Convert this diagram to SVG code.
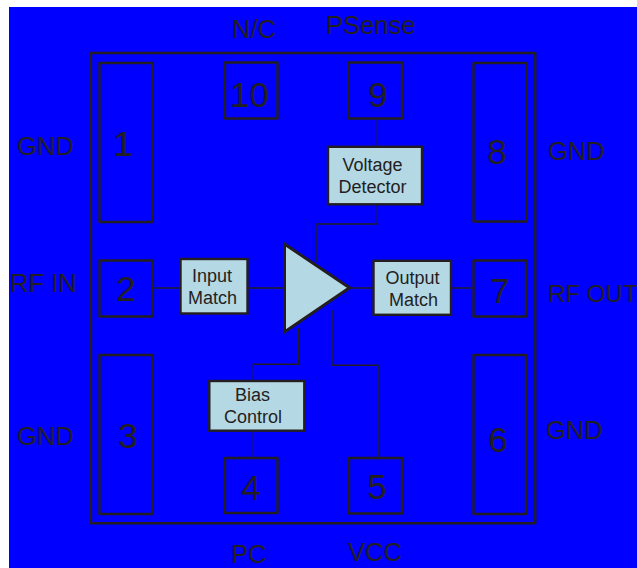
<svg xmlns="http://www.w3.org/2000/svg" width="637" height="568" viewBox="0 0 637 568">
<style>
text{font-family:"Liberation Sans",Arial,sans-serif;fill:#231f20}
.l{font-size:25.5px}
.n{font-size:35px;text-anchor:middle}
.t{font-size:18px;text-anchor:middle}
.pin{fill:none;stroke:#231f20;stroke-width:2.4;stroke-linejoin:round}
.blk{fill:#b5d8e5;stroke:#231f20;stroke-width:2.4}
.w{fill:none;stroke:#231f20;stroke-width:1.4}
</style>
<rect width="637" height="568" fill="#fff"/>
<rect x="9" y="7" width="628" height="561" fill="#0000ff"/>
<rect id="package" x="91" y="53" width="444.3" height="470.3" fill="none" stroke="#231f20" stroke-width="2.4" stroke-linejoin="round"/>
<g id="connectors">
<path class="w" d="M377.3 118V146"/>
<path class="w" d="M377.3 205V224H317V262"/>
<path class="w" d="M153 288H180"/>
<path class="w" d="M248 288H284"/>
<path class="w" d="M350 288H373"/>
<path class="w" d="M452 288H473"/>
<path class="w" d="M298.4 328V364.3H253.3V381"/>
<path class="w" d="M253.3 431V458"/>
<path class="w" d="M332 310V365.3H378V458"/>
</g>
<g id="pin1"><rect class="pin" x="99.5" y="63" width="53" height="159"/><text class="n" x="123" y="156">1</text></g>
<g id="pin2"><rect class="pin" x="99.5" y="260.5" width="53" height="56"/><text class="n" x="126" y="301">2</text></g>
<g id="pin3"><rect class="pin" x="99.5" y="355" width="53" height="159"/><text class="n" x="128" y="448">3</text></g>
<g id="pin4"><rect class="pin" x="225" y="458" width="52.5" height="55"/><text class="n" x="251" y="500">4</text></g>
<g id="pin5"><rect class="pin" x="349" y="458" width="53" height="55.5"/><text class="n" x="377" y="499">5</text></g>
<g id="pin6"><rect class="pin" x="473.5" y="355" width="52.5" height="159"/><text class="n" x="498" y="452">6</text></g>
<g id="pin7"><rect class="pin" x="473.5" y="260.5" width="52.5" height="56"/><text class="n" x="500" y="303">7</text></g>
<g id="pin8"><rect class="pin" x="473.5" y="63" width="53" height="158.5"/><text class="n" x="497" y="164">8</text></g>
<g id="pin9"><rect class="pin" x="348.5" y="62.5" width="53.5" height="56"/><text class="n" x="378" y="107">9</text></g>
<g id="pin10"><rect class="pin" x="225" y="62.5" width="52.5" height="56"/><text class="n" x="249.5" y="107">10</text></g>
<g id="voltage-detector"><rect class="blk" x="328" y="146.8" width="94" height="57.5"/><text class="t" x="372.5" y="171">Voltage</text><text class="t" x="372.5" y="193">Detector</text></g>
<g id="input-match"><rect class="blk" x="180.5" y="259" width="67" height="54.5"/><text class="t" x="212" y="282">Input</text><text class="t" x="212.5" y="304">Match</text></g>
<g id="output-match"><rect class="blk" x="373.5" y="260.8" width="77.5" height="54"/><text class="t" x="412.5" y="284">Output</text><text class="t" x="413.5" y="306">Match</text></g>
<g id="bias-control"><rect class="blk" x="209.3" y="381" width="95" height="49.7"/><text class="t" x="252.5" y="401">Bias</text><text class="t" x="253" y="423">Control</text></g>
<g id="amplifier"><path d="M284.5 244L349.5 287.8L284.5 332Z" fill="#b5d8e5" stroke="#231f20" stroke-width="3"/></g>
<g id="labels">
<text class="l" x="17" y="155">GND</text>
<text class="l" x="10" y="292">RF IN</text>
<text class="l" x="17" y="445">GND</text>
<text class="l" x="232" y="38">N/C</text>
<text class="l" x="326" y="34">PSense</text>
<text class="l" x="548" y="160">GND</text>
<text class="l" x="548" y="302" style="font-size:24px">RF OUT</text>
<text class="l" x="546" y="439">GND</text>
<text class="l" x="231" y="563">PC</text>
<text class="l" x="348" y="561">VCC</text>
</g>
</svg>
